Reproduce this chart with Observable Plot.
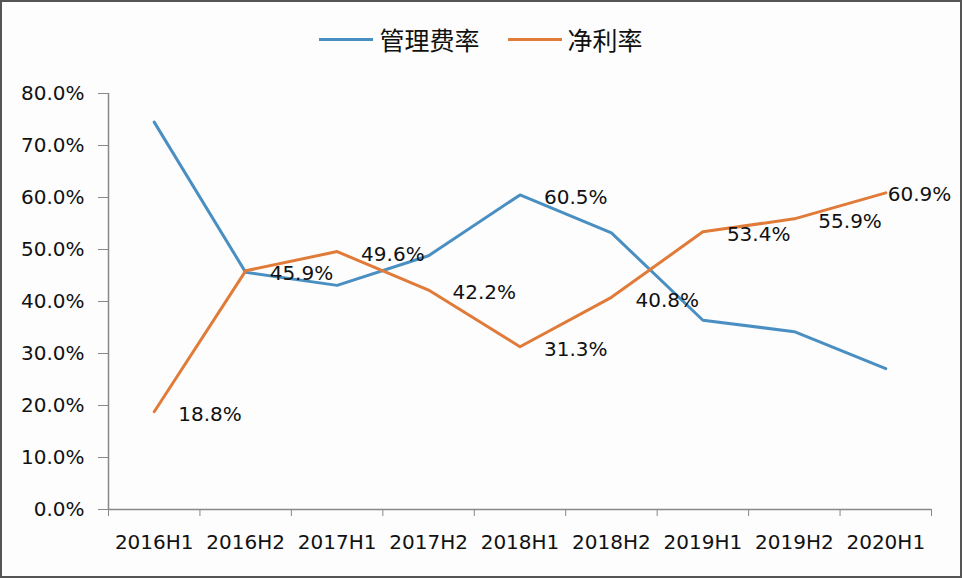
<!DOCTYPE html>
<html><head><meta charset="utf-8">
<script src="https://cdn.jsdelivr.net/npm/d3@7"></script>
<script src="https://cdn.jsdelivr.net/npm/@observablehq/plot@0.6"></script>
<style>
body{margin:0;background:#fff;}
#wrap{position:relative;width:962px;height:578px;background:#fdfdfd;overflow:hidden;font-family:"DejaVu Sans",sans-serif;}
#frame{position:absolute;left:0;top:0;width:962px;height:578px;box-sizing:border-box;border:2px solid #555;pointer-events:none;}
#legend{position:absolute;top:21px;left:0;width:962px;display:flex;justify-content:center;align-items:center;font-family:"Noto Sans CJK SC",sans-serif;font-size:25px;color:#111;}
.item{display:flex;align-items:center;margin:0 14px;}
.sw{display:inline-block;width:54px;height:3px;margin-right:6px;}
#chart{position:absolute;left:0;top:75px;}
</style></head>
<body>
<div id="wrap">
  <div id="legend"></div>
  <div id="chart"></div>
  <div id="frame"></div>
</div>
<script>
const categories = ["2016H1","2016H2","2017H1","2017H2","2018H1","2018H2","2019H1","2019H2","2020H1"];
const seriesNames = ["管理费率","净利率"];
const seriesColors = ["#4a8fc2","#e07b39"];
const mgmtRate = [74.5, 45.6, 43.1, 48.8, 60.5, 53.2, 36.4, 34.2, 27.1];
const netRate = [18.8, 45.9, 49.6, 42.2, 31.3, 40.8, 53.4, 55.9, 60.9];
const yTicks = [0,10,20,30,40,50,60,70,80];
// data labels: category, value
const labelCats = ["2016H1","2016H2","2017H1","2017H2","2018H1","2018H1","2018H2","2019H1","2019H2","2020H1"];
const labelVals = [18.8, 45.9, 49.6, 42.2, 60.5, 31.3, 40.8, 53.4, 55.9, 60.9];

const rows = [];
categories.forEach((c,i)=>{
  rows.push({i, cat:c, series:seriesNames[0], v:mgmtRate[i]});
  rows.push({i, cat:c, series:seriesNames[1], v:netRate[i]});
});
const labels = labelCats.map((c,k)=>({i:categories.indexOf(c), v:labelVals[k], text:labelVals[k].toFixed(1)+"%"}));
const lastIdx = categories.length-1;

// legend
const lg = document.getElementById("legend");
seriesNames.forEach((n,k)=>{
  const it = document.createElement("div"); it.className="item";
  const sw = document.createElement("span"); sw.className="sw"; sw.style.background=seriesColors[k];
  const t = document.createElement("span"); t.textContent=n;
  it.appendChild(sw); it.appendChild(t); lg.appendChild(it);
});

const boundaries = d3.range(categories.length+1).map(i=>i-0.5);

const chart = Plot.plot({
  width: 962, height: 500,
  marginLeft: 108, marginRight: 31, marginTop: 18, marginBottom: 66,
  style: {fontFamily: "DejaVu Sans, sans-serif", fontSize: "20px", color: "#111", background: "transparent", overflow: "visible"},
  x: {type: "linear", domain: [-0.5, categories.length-0.5]},
  y: {domain: [0, 80]},
  color: {domain: seriesNames, range: seriesColors},
  marks: [
    Plot.axisY({ticks: yTicks, tickSize: 10, tickPadding: 14, tickFormat: d => d.toFixed(1)+"%", stroke: "#888", label: null, fontSize: 20}),
    Plot.axisX({ticks: boundaries, tickSize: 7, tickFormat: () => "", stroke: "#888", label: null}),
    Plot.axisX({ticks: d3.range(categories.length), tickSize: 0, tickPadding: 25, tickFormat: i => categories[i], label: null, fontSize: 20}),
    Plot.ruleX([-0.5], {stroke: "#888", strokeWidth: 1.5}),
    Plot.ruleY([0], {stroke: "#888", strokeWidth: 1.5}),
    Plot.line(rows, {x: "i", y: "v", z: "series", stroke: "series", strokeWidth: 3}),
    Plot.text(labels.filter(d => d.i !== lastIdx), {x: "i", y: "v", text: "text", textAnchor: "start", dx: 24, dy: 3, fontSize: 20, fill: "#111"}),
    Plot.text(labels.filter(d => d.i === lastIdx), {x: "i", y: "v", text: "text", textAnchor: "start", dx: 2, dy: 2, fontSize: 20, fill: "#111"})
  ]
});
document.getElementById("chart").appendChild(chart);
</script>
</body></html>
